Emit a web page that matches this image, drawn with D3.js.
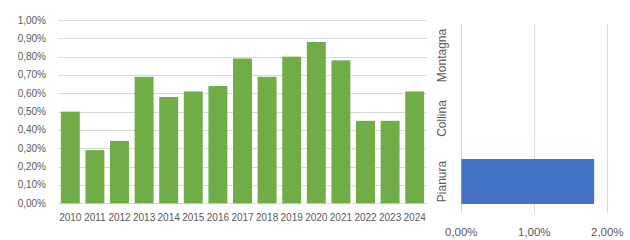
<!DOCTYPE html>
<html><head><meta charset="utf-8">
<script src="https://cdn.jsdelivr.net/npm/d3@7"></script>
<style>body{margin:0;background:#fff}svg{display:block}text{font-family:"Liberation Sans",Arial,sans-serif;font-size:10px;fill:#595959}</style>
</head><body>
<script>
const years = ["2010","2011","2012","2013","2014","2015","2016","2017","2018","2019","2020","2021","2022","2023","2024"];
const yearValues = [0.50,0.29,0.34,0.69,0.58,0.61,0.64,0.79,0.69,0.80,0.88,0.78,0.45,0.45,0.61];
const yTicks = [0,0.1,0.2,0.3,0.4,0.5,0.6,0.7,0.8,0.9,1.0];
const zones = ["Pianura","Collina","Montagna"];
const zoneValues = [1.82,null,null];
const xTicks = [0,1,2];

const fmt = v => d3.format(".2f")(v).replace(".", ",") + "%";
const svg = d3.select("body").append("svg").attr("width",630).attr("height",240);

// Left chart
const x1 = d3.scaleBand().domain(years).range([58,427]).paddingInner(0.23).paddingOuter(0.115);
const y1 = d3.scaleLinear().domain([0,1]).range([203.3,20]);
const g1 = svg.append("g");
g1.selectAll("line.grid").data(yTicks).enter().append("line")
  .attr("x1",58).attr("x2",427).attr("y1",d=>Math.round(y1(d))+0.5).attr("y2",d=>Math.round(y1(d))+0.5)
  .attr("stroke","#d9d9d9").attr("stroke-width",1);
g1.selectAll("text.yt").data(yTicks).enter().append("text")
  .attr("x",46).attr("y",d=>y1(d)).attr("dy","0.35em").attr("text-anchor","end").text(fmt);
g1.selectAll("rect").data(years).enter().append("rect")
  .attr("x",d=>x1(d)).attr("width",x1.bandwidth())
  .attr("y",(d,i)=>y1(yearValues[i])).attr("height",(d,i)=>y1(0)-y1(yearValues[i]))
  .attr("fill","#70ad47");
g1.selectAll("text.xt").data(years).enter().append("text")
  .attr("x",d=>x1(d)+x1.bandwidth()/2).attr("y",217).attr("dy","0.35em").attr("text-anchor","middle").text(d=>d);

// Right chart
const x2 = d3.scaleLinear().domain([0,2]).range([461.3,607.3]);
const y2 = d3.scaleBand().domain(zones.slice().reverse()).range([24,213]).paddingInner(0.286).paddingOuter(0.143);
const g2 = svg.append("g");
g2.selectAll("line.vg").data(xTicks).enter().append("line")
  .attr("x1",d=>Math.round(x2(d))+0.5).attr("x2",d=>Math.round(x2(d))+0.5).attr("y1",24).attr("y2",213)
  .attr("stroke","#d9d9d9").attr("stroke-width",1);
g2.selectAll("rect").data(zones.filter((d,i)=>zoneValues[i]!=null)).enter().append("rect")
  .attr("x",x2(0)).attr("y",d=>y2(d)).attr("height",y2.bandwidth())
  .attr("width",d=>x2(zoneValues[zones.indexOf(d)])-x2(0)).attr("fill","#4472c4");
g2.selectAll("text.xt").data(xTicks).enter().append("text")
  .attr("x",d=>x2(d)).attr("y",231.5).attr("dy","0.35em").attr("text-anchor","middle")
  .style("font-size","11.5px").text(fmt);
g2.selectAll("text.zl").data(zones).enter().append("text")
  .attr("transform",d=>`translate(442,${y2(d)+y2.bandwidth()/2}) rotate(-90)`)
  .attr("dy","0.35em").attr("text-anchor","middle").style("font-size","12px").text(d=>d);
</script>
</body></html>
